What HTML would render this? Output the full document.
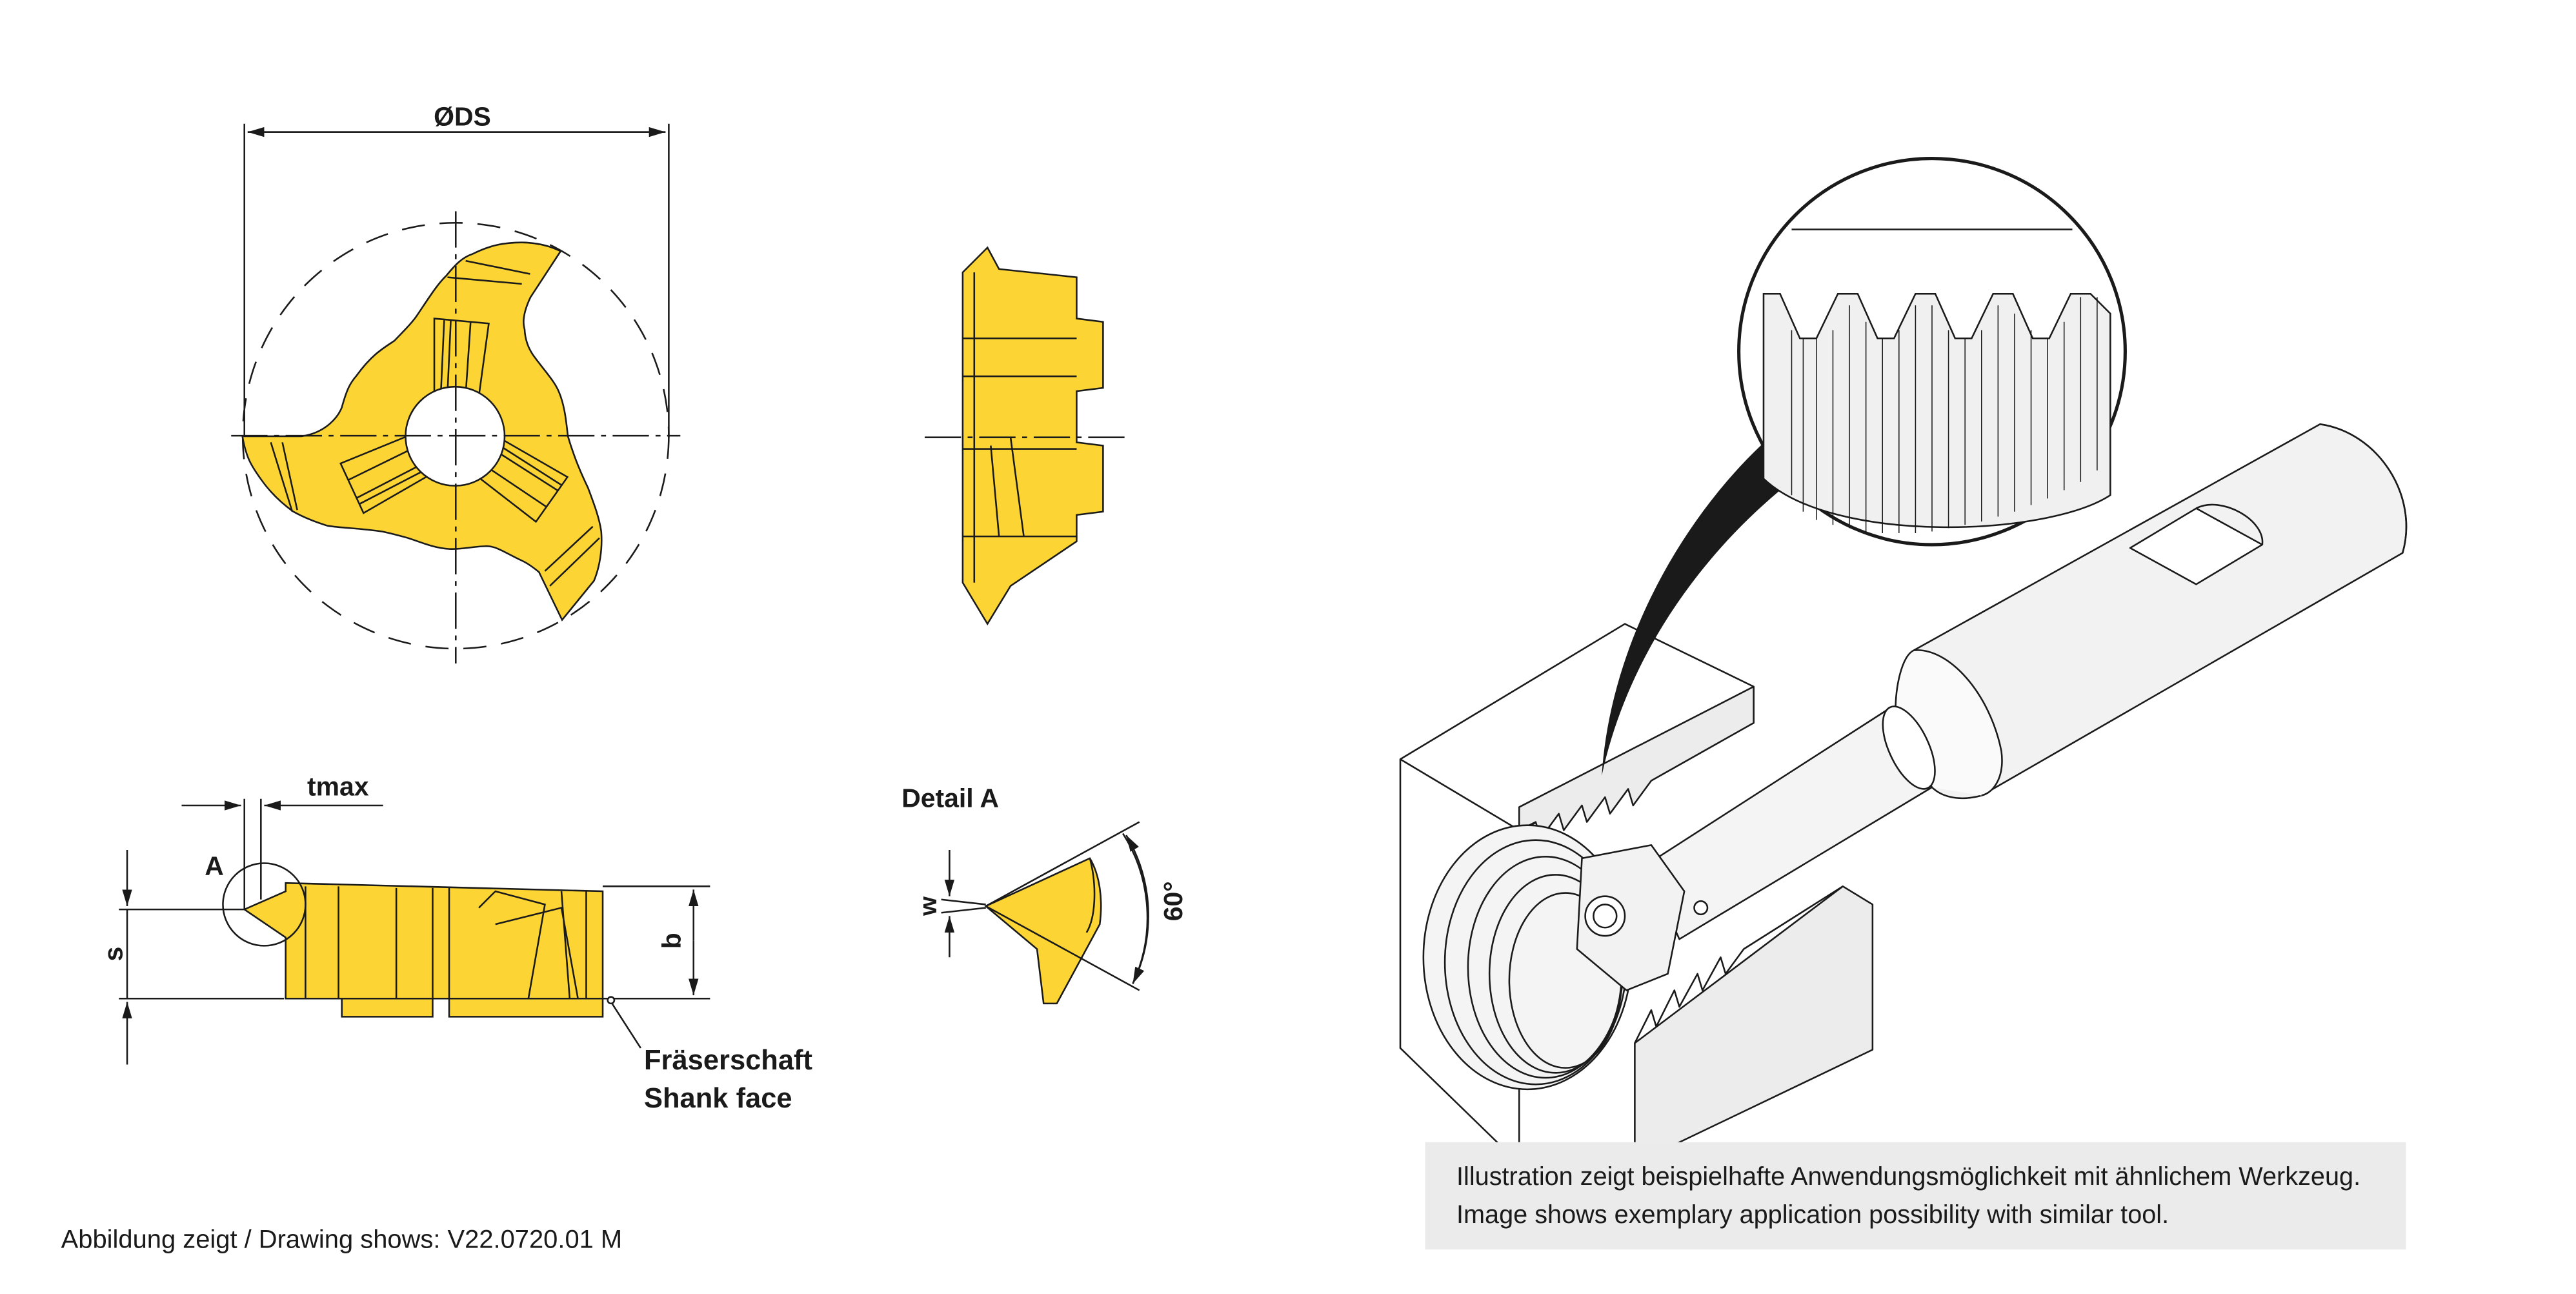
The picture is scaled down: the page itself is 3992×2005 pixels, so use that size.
<!DOCTYPE html>
<html><head><meta charset="utf-8"><style>
html,body{margin:0;padding:0;background:#fff}
svg{display:block}
text{font-family:"Liberation Sans","DejaVu Sans",sans-serif;fill:#1a1a1a}
</style></head><body>
<svg width="3992" height="2005" viewBox="0 0 1560 784" preserveAspectRatio="none" xmlns="http://www.w3.org/2000/svg">
<defs>
<marker id="ar" markerWidth="10" markerHeight="6" refX="10" refY="3" orient="auto" markerUnits="userSpaceOnUse"><path d="M0,0 L10,3 L0,6 z" fill="#1a1a1a"/></marker>
</defs>
<g stroke="#1a1a1a" stroke-width="1" fill="none">
<line x1="148" y1="75" x2="148" y2="265"/><line x1="405" y1="75" x2="405" y2="265"/>
<line x1="150" y1="80" x2="403" y2="80" marker-end="url(#ar)"/>
<line x1="403" y1="80" x2="150" y2="80" marker-end="url(#ar)"/>
<circle cx="276" cy="264" r="129" stroke-dasharray="14,9"/>
<path fill="#fcd535" d="M146.8,264.3 L182.8,264.3 C198,262 205,252 207,246.8 C210,236 212,232 216,227.5 C225,215 232,211 238.8,206.5 C246,199 250,195 252.8,190.7 C260,180 265,172 270.3,167 C276,160 280,156 286.1,153.9 C298,148 306,147 315.9,146.9 C325,147 333,149 339.5,152.2 L321.2,180.2 C318,187 316,194 317.7,199.5 C318,206 320,211 322.9,215.2 C330,225 336,231 338.7,238 C342,246 343,256 343.9,264.3 C348,278 352,287 356.2,295.8 C360,306 363,314 364.1,322 C365,333 363,344 359.7,351.9 L340.4,375.6 L326.4,346.6 C322,343 319,341 315.9,339.6 C306,335 301,331 294.9,330.9 C286,331 280,333 272.1,332.6 C262,332 254,328 245.8,325.6 C240,324 236,323 231.8,322.1 C218,320 208,320 198.5,318.6 C190,316 183,313 177.5,309.9 C168,303 162,296 158.2,290.6 C152,282 149,277 146.8,264.3 Z"/>
<path d="M282,158 L321,166 M271,168 L316,172 M171,268 L180,309 M164,268 L177,310 M330,346 L359,319 M333,355 L363,326"/>
<g id="slot"><path d="M263,193 L296,196 L290,240 L263,238 Z"/><path d="M269,194 L267,238 M285,195 L282,239 M273,194 L271,238"/></g>
<use href="#slot" transform="rotate(120 275.6 264.3)"/>
<use href="#slot" transform="rotate(240 275.6 264.3)"/>
<circle cx="275.6" cy="264.3" r="30" fill="#fff"/>
<line x1="140" y1="264" x2="412" y2="264" stroke-dasharray="22,4,3,4"/>
<line x1="276" y1="128" x2="276" y2="402" stroke-dasharray="22,4,3,4"/>
<path fill="#fcd535" d="M583,165 L598,150 L605,163 L652,168 L652,193 L668,195 L668,235 L652,237 L652,268 L668,270 L668,310 L652,312 L652,328 L612,355 L598,378 L583,353 Z"/>
<path d="M583,205 L652,205 M583,228 L652,228 M583,272 L652,272 M583,325 L652,325 M590,165 L590,353 M600,270 L605,325 M612,265 L620,325"/>
<line x1="560" y1="265" x2="685" y2="265" stroke-dasharray="22,4,3,4"/>
<path fill="#fcd535" d="M207,605 L262,605 L262,616 L207,616 Z M272,605 L365,605 L365,616 L272,616 Z"/>
<path fill="#fcd535" d="M173,535 L365,540 L365,605 L173,605 L173,568 L148,551 L173,540 Z"/>
<path d="M185,537 L185,605 M205,537 L205,605 M240,538 L240,605 M262,538 L262,605 M272,538 L272,605 M290,550 L300,540 L330,548 L320,605 M300,560 L340,550 L350,605 M340,540 L345,605 M355,540 L355,605"/>
<circle cx="160" cy="548" r="25"/>
<line x1="72" y1="551" x2="148" y2="551"/><line x1="72" y1="605" x2="172" y2="605"/>
<line x1="77" y1="515" x2="77" y2="549" marker-end="url(#ar)"/>
<line x1="77" y1="645" x2="77" y2="607" marker-end="url(#ar)"/>
<line x1="77" y1="551" x2="77" y2="605"/>
<line x1="365" y1="537" x2="430" y2="537"/><line x1="365" y1="605" x2="430" y2="605"/>
<line x1="420" y1="570" x2="420" y2="539" marker-end="url(#ar)"/>
<line x1="420" y1="570" x2="420" y2="603" marker-end="url(#ar)"/>
<line x1="148" y1="484" x2="148" y2="551"/><line x1="158" y1="484" x2="158" y2="545"/>
<line x1="110" y1="488" x2="146" y2="488" marker-end="url(#ar)"/>
<line x1="232" y1="488" x2="160" y2="488" marker-end="url(#ar)"/>
<path d="M370,607 L388,635"/><circle cx="370" cy="606" r="2" fill="#fff"/>
<path fill="#fcd535" d="M597,549 L660,520 C666,530 668,545 666,560 L640,608 L632,608 L628,575 Z"/>
<path d="M660,520 C664,535 664,555 658,565"/>
<line x1="570" y1="545" x2="597" y2="548"/><line x1="570" y1="553" x2="597" y2="550"/>
<line x1="575" y1="515" x2="575" y2="543" marker-end="url(#ar)"/>
<line x1="575" y1="580" x2="575" y2="555" marker-end="url(#ar)"/>
<line x1="597" y1="549" x2="690" y2="498"/><line x1="597" y1="549" x2="690" y2="600"/>
<path d="M680,505 A95,95 0 0 1 686,596" marker-end="url(#ar)"/>
<path d="M686,596 A95,95 0 0 0 682,506" marker-end="url(#ar)"/>
</g>
<text x="280" y="76" font-size="16" font-weight="bold" text-anchor="middle">ØDS</text>
<text x="186" y="482" font-size="16" font-weight="bold">tmax</text>
<text x="124" y="530" font-size="16" font-weight="bold">A</text>
<text transform="translate(74,578) rotate(-90)" font-size="16" font-weight="bold" text-anchor="middle">s</text>
<text transform="translate(412,570) rotate(-90)" font-size="16" font-weight="bold" text-anchor="middle">b</text>
<text x="390" y="648" font-size="17" font-weight="bold">Fräserschaft</text>
<text x="390" y="671" font-size="17" font-weight="bold">Shank face</text>
<text x="546" y="489" font-size="16" font-weight="bold">Detail A</text>
<text transform="translate(567,549) rotate(-90)" font-size="15" font-weight="bold" text-anchor="middle">w</text>
<text transform="translate(716,546) rotate(-90)" font-size="16" font-weight="bold" text-anchor="middle">60°</text>
<text x="37" y="756" font-size="15.6">Abbildung zeigt / Drawing shows: V22.0720.01 M</text>

<g stroke="#1a1a1a" stroke-width="1" fill="#fff" stroke-linejoin="round">
<!-- big shank -->
<path d="M1159,394 L1405,257 C1440,262 1465,300 1455,335 L1200,482 C1185,486 1175,482 1170,477 Z" fill="#f2f2f2"/>
<path d="M1405,257 C1440,262 1465,300 1455,335" fill="none"/>
<path d="M1170,477 C1140,470 1145,400 1159,394 C1180,392 1205,420 1212,455 C1214,470 1208,480 1200,482" fill="#fafafa"/>
<path d="M1290,332 L1330,308 L1370,330 L1330,354 Z"/>
<path d="M1330,308 C1345,300 1372,315 1370,330" fill="none"/>
<!-- neck -->
<path d="M997,524 L1143,430 L1170,477 L1017,569 Z" fill="#f4f4f4"/>
<ellipse cx="1156" cy="453" rx="12" ry="27" transform="rotate(-25 1156 453)" fill="#fff"/>
<!-- block left -->
<path d="M848,460 L984,378 L1062,416 L1062,438 L920,503 L920,705 L848,635 Z" fill="#fff"/>
<path d="M848,460 L920,503 L1062,438" fill="none"/>
<path d="M920,503 L930,498 L933,508 L944,493 L947,503 L958,488 L961,498 L972,483 L975,493 L986,478 L989,488 L1000,473 L1062,438 L1062,416 L920,489 Z" fill="#ececec"/>
<ellipse cx="925" cy="580" rx="63" ry="80" fill="#f4f4f4"/>
<ellipse cx="930" cy="583" rx="55" ry="74" fill="none"/>
<ellipse cx="936" cy="586" rx="47" ry="67" fill="none"/>
<ellipse cx="942" cy="590" rx="40" ry="60" fill="none"/>
<ellipse cx="948" cy="594" rx="34" ry="53" fill="none"/>
<!-- block right -->
<path d="M990,632 L1116,537 L1134,548 L1134,636 L990,705 Z" fill="#ececec"/>
<path d="M990,632 L1000,612 L1003,622 L1014,600 L1017,610 L1028,590 L1031,600 L1042,580 L1045,590 L1056,575 L1116,537" fill="none"/>
<!-- insert -->
<path d="M958,520 L1000,512 L1020,540 L1010,590 L985,600 L955,575 Z" fill="#f2f2f2"/>
<circle cx="972" cy="555" r="12" fill="#fff"/>
<circle cx="972" cy="555" r="7" fill="#fff"/>
<circle cx="1030" cy="550" r="4" fill="#fff"/>
</g>
<path d="M1075,262 L1100,280 C1030,330 985,400 970,470 C975,390 1020,310 1075,262 Z" fill="#1a1a1a"/>
<g stroke="#1a1a1a" stroke-width="1">
<circle cx="1170" cy="213" r="117" fill="#fff" stroke-width="2"/>
<line x1="1085" y1="139" x2="1255" y2="139"/>
<path fill="#f0f0f0" d="M1068,178 L1078,178 L1090,205 L1100,205 L1113,178 L1125,178 L1137,205 L1147,205 L1160,178 L1172,178 L1184,205 L1194,205 L1207,178 L1219,178 L1231,205 L1241,205 L1254,178 L1266,178 L1278,190 L1278,300 C1240,325 1110,330 1068,290 Z"/>
<path fill="none" stroke-width="0.6" d="M1085,200 L1085,300 M1092,205 L1092,310 M1100,205 L1100,315 M1110,200 L1110,318 M1120,185 L1120,320 M1130,195 L1130,322 M1140,205 L1140,323 M1150,200 L1150,323 M1160,185 L1160,323 M1170,185 L1170,322 M1180,200 L1180,320 M1190,205 L1190,318 M1200,200 L1200,316 M1210,185 L1210,313 M1220,190 L1220,310 M1230,200 L1230,306 M1240,205 L1240,302 M1250,195 L1250,297 M1260,180 L1260,292 M1270,180 L1270,285"/>
</g>
<rect x="863" y="692" width="594" height="65" fill="#ebebeb"/>
<text x="882" y="718" font-size="15.5">Illustration zeigt beispielhafte Anwendungsmöglichkeit mit ähnlichem Werkzeug.</text>
<text x="882" y="741" font-size="15.5">Image shows exemplary application possibility with similar tool.</text>
</svg>
</body></html>
